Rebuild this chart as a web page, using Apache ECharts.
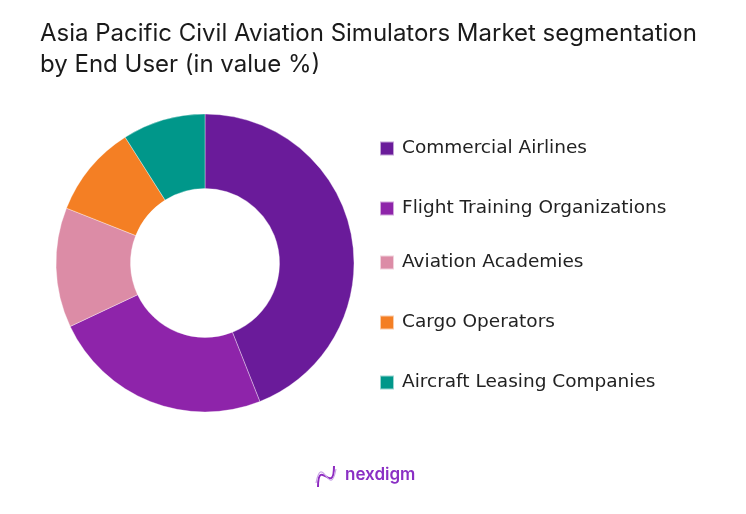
<!DOCTYPE html>
<html>
<head>
<meta charset="utf-8">
<script src="https://cdn.jsdelivr.net/npm/echarts@6/dist/echarts.min.js"></script>
<style>
html,body{margin:0;padding:0;background:#fff;}
#chart{width:746px;height:514px;}
</style>
</head>
<body>
<div id="chart"></div>
<script>
const titleText = "Asia Pacific Civil Aviation Simulators Market segmentation\nby End User (in value %)";
const categories = ["Commercial Airlines", "Flight Training Organizations", "Aviation Academies", "Cargo Operators", "Aircraft Leasing Companies"];
const values = [44, 24, 13, 10, 9];
const colors = ["#6A1B9A", "#8E24AA", "#DC8CA6", "#F47F24", "#00978A"];
const legendTops = [139, 199, 253, 313, 373];

const chart = echarts.init(document.getElementById('chart'), null, {renderer: 'canvas'});
const legends = categories.map((c, i) => ({
  data: [c],
  left: 379,
  top: legendTops[i],
  padding: 0,
  orient: 'vertical',
  icon: 'rect',
  itemWidth: 14,
  itemHeight: 14,
  itemGap: 8,
  selectedMode: false,
  textStyle: {fontFamily: 'DejaVu Sans', fontSize: 18.5, color: '#222', padding: [0, 0, 0, 3]}
}));

chart.setOption({
  animation: false,
  backgroundColor: '#fff',
  title: {
    text: titleText,
    left: 40,
    top: 13,
    padding: [5, 5, 5, 0],
    textStyle: {fontFamily: 'Inter', fontSize: 24, fontWeight: 'normal', color: '#1a1a1a', lineHeight: 31}
  },
  color: colors,
  legend: legends,
  series: [{
    type: 'pie',
    center: [205, 263],
    radius: [74.5, 149],
    startAngle: 90,
    clockwise: true,
    label: {show: false},
    labelLine: {show: false},
    itemStyle: {borderColor: 'rgba(255,255,255,0.6)', borderWidth: 0.6},
    data: categories.map((c, i) => ({name: c, value: values[i]}))
  }],
  graphic: [
    {
      type: 'text',
      left: 345,
      top: 466,
      style: {text: 'nexdigm', font: '600 17px Inter', fill: '#8A2FC4'}
    },
    {
      type: 'bezierCurve',
      shape: {x1: 318, y1: 487, x2: 334, y2: 466, cpx1: 318, cpy1: 456, cpx2: 334, cpy2: 497},
      style: {stroke: '#8E2BC0', lineWidth: 2, fill: null}
    },
    {
      type: 'bezierCurve',
      shape: {x1: 316, y1: 483, x2: 336, y2: 469, cpx1: 322, cpy1: 451, cpx2: 330, cpy2: 501},
      style: {stroke: '#C9A4E6', lineWidth: 1.2, fill: null}
    }
  ]
});
</script>
</body>
</html>
